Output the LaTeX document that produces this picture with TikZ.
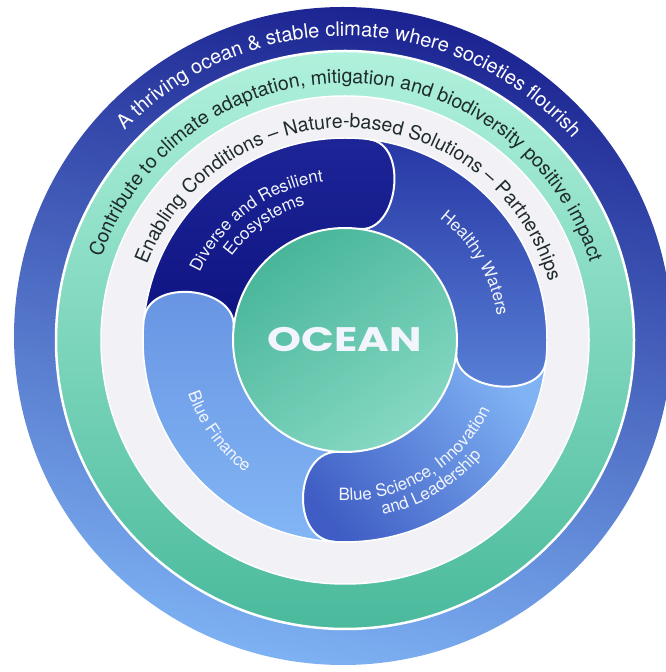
\documentclass[tikz,border=0pt]{standalone}
\usepackage{graphicx}
\usepackage{fontspec}
\setmainfont{TeX Gyre Heros}
\newfontfamily\widefont{Poppins}
\usetikzlibrary{decorations.text}

\definecolor{ringtop}{HTML}{1B2391}
\definecolor{ringmid}{HTML}{4566CB}
\definecolor{ringbot}{HTML}{7DB1F3}
\definecolor{minttop}{HTML}{B0F1DC}
\definecolor{mintbot}{HTML}{4ABA9C}
\definecolor{greyband}{HTML}{F2F1F5}
\definecolor{divtop}{HTML}{1D2597}
\definecolor{divbot}{HTML}{0E1381}
\definecolor{hwtop}{HTML}{2737A5}
\definecolor{hwbot}{HTML}{5A83D8}
\definecolor{bstop}{HTML}{80B3F4}
\definecolor{bsbot}{HTML}{3F5DC4}
\definecolor{bftop}{HTML}{6793E2}
\definecolor{bfbot}{HTML}{82B6F5}
\definecolor{oceantop}{HTML}{48B699}
\definecolor{oceanbot}{HTML}{86D8C3}
\definecolor{darkword}{HTML}{1E2A2C}
\definecolor{paleword}{HTML}{F2F5FC}

\begin{document}
\begin{tikzpicture}[x=1pt,y=1pt,
    capline/.style={draw=white,line width=2pt},
    ringtext/.style={decorate,decoration={text along path,text align=center}},
    bfshade/.style={top color=bftop,bottom color=bfbot}]
    \useasboundingbox (0,0) rectangle (666,672);
    \clip (0,0) rectangle (666,672);
    \coordinate (ctr) at (345,332);
    \begin{scope}[shift={(ctr)}]
    %Rings
    \shade[top color=ringtop,middle color=ringmid,bottom color=ringbot,shading angle=-12] (-2,4) circle (329);
    \shade[top color=minttop,bottom color=mintbot,draw=white,line width=2.5pt] (0,0) circle (289);
    \filldraw[fill=greyband,draw=white,line width=1.5pt] (0,0) circle (244);

    %Segments
    \shade[bfshade] (268:202) arc[start angle=268,end angle=174,radius=202] .. controls +(84:42) and +(84:42) .. (174:112) arc[start angle=174,end angle=268,radius=112] -- cycle;
    \shade[top color=bstop,bottom color=bsbot,shading angle=-50] (355:202) arc[start angle=355,end angle=267,radius=202] .. controls +(177:45) and +(177:45) .. (267:112) arc[start angle=267,end angle=355,radius=112] -- cycle;
    \shade[top color=hwtop,bottom color=hwbot] (84:202) arc[start angle=84,end angle=-6,radius=202] .. controls +(-96:40) and +(-96:40) .. (-6:112) arc[start angle=-6,end angle=84,radius=112] -- cycle;
    \shade[top color=divtop,bottom color=divbot] (175:202) arc[start angle=175,end angle=83,radius=202] .. controls +(-7:40) and +(-7:40) .. (83:112) arc[start angle=83,end angle=175,radius=112] -- cycle;
    \begin{scope}
    \clip (176:202) -- (174:202) .. controls +(84:42) and +(84:42) .. (174:112) -- (176:112) -- cycle;
    \shade[bfshade] (268:202) arc[start angle=268,end angle=174,radius=202] .. controls +(84:42) and +(84:42) .. (174:112) arc[start angle=174,end angle=268,radius=112] -- cycle;
    \end{scope}
    \draw[capline] (174:202) .. controls +(84:42) and +(84:42) .. (174:112);
    \draw[capline] (267:202) .. controls +(177:45) and +(177:45) .. (267:112);
    \draw[capline] (-6:202) .. controls +(-96:40) and +(-96:40) .. (-6:112);
    \draw[capline] (83:202) .. controls +(-7:40) and +(-7:40) .. (83:112);
    \draw[white,line width=1.5pt] (0,0) circle (202);

    %Ocean
    \shade[top color=oceantop,bottom color=oceanbot,shading angle=35,draw=white,line width=2pt] (0,0) circle (112);
    \node[text=paleword] (ocean) at (0,0) {\widefont\bfseries\fontsize{34}{34}\selectfont\scalebox{1.27}[1]{OCEAN}};

    %Ring texts
    \path[ringtext,decoration={text={|\color{white}\fontsize{20}{20}\selectfont|A thriving ocean {\&} stable climate where societies flourish}}] (179:304) arc[start angle=179,end angle=-1,radius=304];
    \path[ringtext,decoration={text={|\color{darkword}\fontsize{19.5}{19.5}\selectfont|Contribute to climate adaptation, mitigation and biodiversity positive impact}}] (179.5:257) arc[start angle=179.5,end angle=-0.5,radius=257];
    \path[ringtext,decoration={text={|\color{darkword}\fontsize{19.5}{19.5}\selectfont|Enabling Conditions – Nature-based Solutions – Partnerships}}] (177.5:212) arc[start angle=177.5,end angle=-2.5,radius=212];

    %Segment texts
    \path[ringtext,decoration={text={|\color{paleword}\fontsize{17}{17}\selectfont|Diverse and Resilient}}] (176.5:160) arc[start angle=176.5,end angle=76.5,radius=160];
    \path[ringtext,decoration={text={|\color{paleword}\fontsize{17}{17}\selectfont|Ecosystems}}] (175:141) arc[start angle=175,end angle=75,radius=141];
    \path[ringtext,decoration={text={|\color{paleword}\fontsize{17}{17}\selectfont|Healthy Waters}}] (80.5:154) arc[start angle=80.5,end angle=-19.5,radius=154];
    \path[ringtext,decoration={text={|\color{paleword}\fontsize{17}{17}\selectfont|Blue Finance}}] (166:166) arc[start angle=166,end angle=266,radius=166];
    \path[ringtext,decoration={text={|\color{paleword}\fontsize{17}{17}\selectfont|Blue Science, Innovation}}] (251:161) arc[start angle=251,end angle=351,radius=161];
    \path[ringtext,decoration={text={|\color{paleword}\fontsize{17}{17}\selectfont|and Leadership}}] (251:179) arc[start angle=251,end angle=351,radius=179];
    \end{scope}
\end{tikzpicture}
\end{document}
